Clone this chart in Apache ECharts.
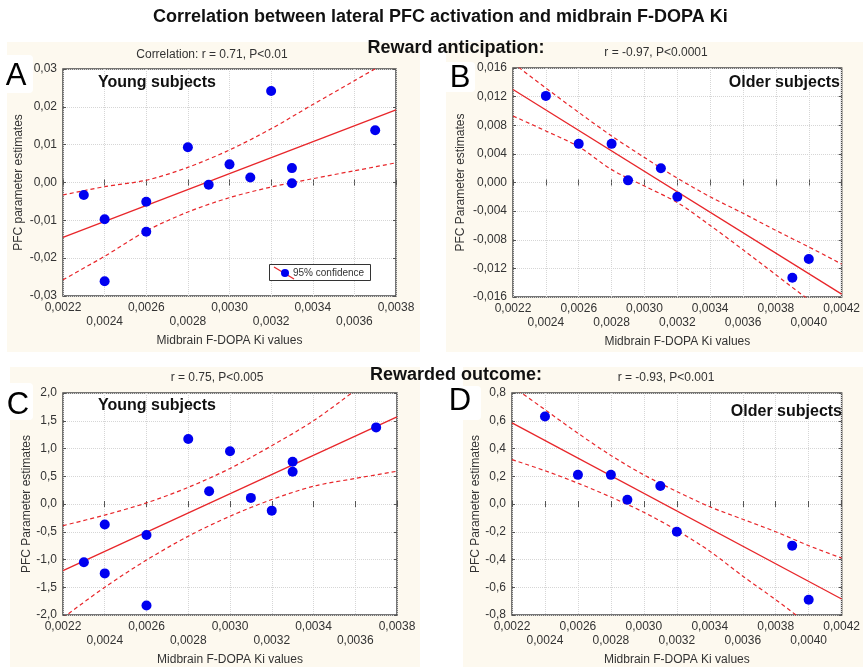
<!DOCTYPE html>
<html>
<head>
<meta charset="utf-8">
<script src="https://cdn.jsdelivr.net/npm/echarts@6/dist/echarts.min.js"></script>
<style>
  html, body { margin: 0; padding: 0; background: #fff; }
  #chart { width: 863px; height: 667px; }
</style>
</head>
<body>
<div id="chart"></div>
<script>
// values
const xTicksYoung = [0.0022, 0.0024, 0.0026, 0.0028, 0.0030, 0.0032, 0.0034, 0.0036, 0.0038];
const xTicksOlder = [0.0022, 0.0024, 0.0026, 0.0028, 0.0030, 0.0032, 0.0034, 0.0036, 0.0038, 0.0040, 0.0042];

// A: reward anticipation, young
const kiA = [0.0023, 0.0024, 0.0024, 0.0026, 0.0026, 0.0028, 0.0029, 0.0030, 0.0031, 0.0032, 0.0033, 0.0033, 0.0037];
const pfcA = [-0.0033, -0.0097, -0.0261, -0.0051, -0.0130, 0.0093, -0.0006, 0.0048, 0.0013, 0.0242, 0.0038, -0.0002, 0.0138];
const fitA = [-0.0145, 0.0192];
const upperA = [-0.0033, -0.0011, 0.0006, 0.0040, 0.0086, 0.0142, 0.0206, 0.0269, 0.0332];
const lowerA = [-0.0257, -0.0195, -0.0128, -0.0078, -0.0040, -0.0012, 0.0010, 0.0031, 0.0052];

// B: reward anticipation, older
const kiB = [0.0024, 0.0026, 0.0028, 0.0029, 0.0031, 0.0032, 0.0039, 0.0040];
const pfcB = [0.0121, 0.0054, 0.0054, 0.0003, 0.0020, -0.0020, -0.0133, -0.0107];
const fitB = [0.0130, -0.0156];
const upperB = [0.0167, 0.0132, 0.0098, 0.0065, 0.0035, 0.0006, -0.0020, -0.0043, -0.0067, -0.0090, -0.0114];
const lowerB = [0.0093, 0.0072, 0.0050, 0.0018, -0.0005, -0.0028, -0.0060, -0.0094, -0.0129, -0.0164, -0.0198];

// C: rewarded outcome, young
const kiC = [0.0023, 0.0024, 0.0024, 0.0026, 0.0026, 0.0028, 0.0029, 0.0030, 0.0031, 0.0032, 0.0033, 0.0033, 0.0037];
const pfcC = [-1.05, -0.37, -1.25, -0.56, -1.83, 1.17, 0.23, 0.95, 0.11, -0.12, 0.76, 0.58, 1.38];
const fitC = [-1.20, 1.57];
const upperC = [-0.39, -0.20, 0.02, 0.30, 0.64, 1.05, 1.50, 2.05, 2.65];
const lowerC = [-2.05, -1.50, -1.01, -0.58, -0.22, 0.08, 0.32, 0.46, 0.59];

// D: rewarded outcome, older
const kiD = [0.0024, 0.0026, 0.0028, 0.0029, 0.0031, 0.0032, 0.0039, 0.0040];
const pfcD = [0.63, 0.21, 0.21, 0.03, 0.13, -0.20, -0.30, -0.69];
const fitD = [0.585, -0.685];
const upperD = [0.85, 0.68, 0.51, 0.35, 0.21, 0.09, -0.02, -0.11, -0.20, -0.30, -0.39];
const lowerD = [0.32, 0.24, 0.15, 0.05, -0.06, -0.19, -0.34, -0.52, -0.69, -0.87, -1.05];

const FONT = '"Liberation Sans", Arial, sans-serif';
const RED = '#e8262a';
const BLUE = '#0000f0';
const BEIGE = '#fdf9ef';
const GRIDLINE = '#d6d6d6';

const panels = [
  { grid: { left: 63, top: 69, width: 333, height: 227 }, xt: xTicksYoung,
    ymin: -0.03, ymax: 0.03, yint: 0.01, yd: 2, yName: 'PFC parameter estimates', yGap: 38,
    ki: kiA, pfc: pfcA, fit: fitA, up: upperA, lo: lowerA },
  { grid: { left: 513, top: 68, width: 331, height: 229 }, xt: xTicksOlder,
    ymin: -0.016, ymax: 0.016, yint: 0.004, yd: 3, yName: 'PFC Parameter estimates', yGap: 46,
    ki: kiB, pfc: pfcB, fit: fitB, up: upperB, lo: lowerB },
  { grid: { left: 63, top: 393, width: 334, height: 222 }, xt: xTicksYoung,
    ymin: -2, ymax: 2, yint: 0.5, yd: 1, yName: 'PFC Parameter estimates', yGap: 30,
    ki: kiC, pfc: pfcC, fit: fitC, up: upperC, lo: lowerC },
  { grid: { left: 512, top: 393, width: 333, height: 224 }, xt: xTicksOlder,
    ymin: -0.8, ymax: 0.8, yint: 0.2, yd: 1, yName: 'PFC Parameter estimates', yGap: 30,
    ki: kiD, pfc: pfcD, fit: fitD, up: upperD, lo: lowerD }
];

function fmt(v, d) {
  const val = Math.abs(v) < 1e-12 ? 0 : v;
  return val.toFixed(d).replace('.', ',');
}

const grids = [];
const xAxes = [];
const yAxes = [];
const series = [];

panels.forEach((p, i) => {
  const xmin = p.xt[0];
  const xmax = p.xt[p.xt.length - 1];
  grids.push(Object.assign({
    show: true, backgroundColor: '#fff', borderColor: '#4a4a4a', borderWidth: 1.5
  }, p.grid));
  const tick = { show: true, inside: true, length: 3, lineStyle: { color: '#555' } };
  const labelBase = {
    color: '#333', fontFamily: FONT, fontSize: 12,
    showMinLabel: true, showMaxLabel: true, hideOverlap: false
  };
  // the two rows of x labels: even ticks on the first, odd ticks on the second
  const rowLabel = (v, odd) => {
    const idx = Math.round((v - xmin) / 0.0002);
    return (idx % 2 === 1) === odd ? fmt(v, 4) : '';
  };
  xAxes.push({
    type: 'value', gridIndex: i, position: 'bottom', min: xmin, max: xmax, interval: 0.0002,
    axisLine: { show: false },
    axisTick: tick,
    splitLine: { show: true, lineStyle: { color: GRIDLINE, type: 'dotted' } },
    axisLabel: Object.assign({ margin: 6, formatter: (v) => rowLabel(v, false) }, labelBase),
    name: 'Midbrain F-DOPA Ki values', nameLocation: 'middle', nameGap: 39,
    nameTextStyle: { color: '#333', fontFamily: FONT, fontSize: 12 }
  });
  xAxes.push({
    type: 'value', gridIndex: i, position: 'top', min: xmin, max: xmax, interval: 0.0002,
    axisLine: { show: false }, axisTick: tick, axisLabel: { show: false }, splitLine: { show: false }
  });
  xAxes.push({
    type: 'value', gridIndex: i, position: 'bottom', min: xmin, max: xmax, interval: 0.0002,
    axisLine: { show: false }, axisTick: { show: false }, splitLine: { show: false },
    axisLabel: Object.assign({ margin: 20, formatter: (v) => rowLabel(v, true) }, labelBase)
  });
  yAxes.push({
    type: 'value', gridIndex: i, position: 'left', min: p.ymin, max: p.ymax, interval: p.yint,
    axisLine: { show: false },
    axisTick: tick,
    splitLine: { show: true, lineStyle: { color: GRIDLINE, type: 'dotted' } },
    axisLabel: Object.assign({ margin: 6, formatter: (v) => fmt(v, p.yd) }, labelBase),
    name: p.yName, nameLocation: 'middle', nameGap: p.yGap,
    nameTextStyle: { color: '#333', fontFamily: FONT, fontSize: 12 }
  });
  yAxes.push({
    type: 'value', gridIndex: i, position: 'right', min: p.ymin, max: p.ymax, interval: p.yint,
    axisLine: { show: false }, axisTick: tick, axisLabel: { show: false }, splitLine: { show: false }
  });
  const xi = i * 3;
  const yi = i * 2;
  const bandStyle = { color: RED, width: 1.2, type: [4, 3] };
  series.push({
    type: 'line', xAxisIndex: xi, yAxisIndex: yi, silent: true, symbol: 'none', smooth: 0.3,
    lineStyle: bandStyle, data: p.xt.map((x, k) => [x, p.up[k]]), z: 3
  });
  series.push({
    type: 'line', xAxisIndex: xi, yAxisIndex: yi, silent: true, symbol: 'none', smooth: 0.3,
    lineStyle: bandStyle, data: p.xt.map((x, k) => [x, p.lo[k]]), z: 3
  });
  series.push({
    type: 'line', xAxisIndex: xi, yAxisIndex: yi, silent: true, symbol: 'none',
    lineStyle: { color: RED, width: 1.3 }, data: [[xmin, p.fit[0]], [xmax, p.fit[1]]], z: 3
  });
  series.push({
    type: 'scatter', xAxisIndex: xi, yAxisIndex: yi, symbolSize: 10,
    itemStyle: { color: BLUE, opacity: 1 }, data: p.ki.map((x, k) => [x, p.pfc[k]]), z: 5
  });
});

function txt(x, y, text, size, weight, align, color) {
  return {
    type: 'text', x, y, z: 20,
    style: {
      text, fontSize: size, fontWeight: weight, fontFamily: FONT,
      fill: color || '#111', align, verticalAlign: 'middle'
    }
  };
}

const graphic = [
  { type: 'rect', z: -10, shape: { x: 7, y: 42, width: 413, height: 310 }, style: { fill: BEIGE } },
  { type: 'rect', z: -10, shape: { x: 446, y: 42, width: 417, height: 310 }, style: { fill: BEIGE } },
  { type: 'rect', z: -10, shape: { x: 10, y: 367, width: 410, height: 300 }, style: { fill: BEIGE } },
  { type: 'rect', z: -10, shape: { x: 463, y: 367, width: 400, height: 300 }, style: { fill: BEIGE } },
  { type: 'rect', z: -5, shape: { x: 0, y: 55, width: 33, height: 38, r: 4 }, style: { fill: '#fff' } },
  { type: 'rect', z: -5, shape: { x: 443, y: 62, width: 32, height: 30, r: 4 }, style: { fill: '#fff' } },
  { type: 'rect', z: -5, shape: { x: 0, y: 383, width: 33, height: 37, r: 4 }, style: { fill: '#fff' } },
  { type: 'rect', z: -5, shape: { x: 443, y: 386, width: 38, height: 34, r: 4 }, style: { fill: '#fff' } },
  txt(153, 17, 'Correlation between lateral PFC activation and midbrain F-DOPA Ki', 18, 'bold', 'left'),
  txt(456, 48, 'Reward anticipation:', 18, 'bold', 'center'),
  txt(456, 375, 'Rewarded outcome:', 18, 'bold', 'center'),
  txt(212, 55, 'Correlation: r = 0.71, P<0.01', 12, 'normal', 'center', '#333'),
  txt(656, 53, 'r = -0.97, P<0.0001', 12, 'normal', 'center', '#333'),
  txt(217, 378, 'r = 0.75, P<0.005', 12, 'normal', 'center', '#333'),
  txt(666, 378, 'r = -0.93, P<0.001', 12, 'normal', 'center', '#333'),
  txt(16, 76, 'A', 31, 'normal', 'center', '#000'),
  txt(460, 78, 'B', 31, 'normal', 'center', '#000'),
  txt(18, 405, 'C', 31, 'normal', 'center', '#000'),
  txt(460, 401, 'D', 31, 'normal', 'center', '#000'),
  txt(98, 83, 'Young subjects', 16, 'bold', 'left'),
  txt(840, 83, 'Older subjects', 16, 'bold', 'right'),
  txt(98, 406, 'Young subjects', 16, 'bold', 'left'),
  txt(842, 412, 'Older subjects', 16, 'bold', 'right'),
  // legend of panel A
  { type: 'rect', z: 20, shape: { x: 269.5, y: 264.5, width: 101, height: 16 },
    style: { fill: '#fff', stroke: '#333', lineWidth: 1 } },
  { type: 'line', z: 21, shape: { x1: 274, y1: 267, x2: 294, y2: 279 },
    style: { stroke: RED, lineWidth: 1.2 } },
  { type: 'circle', z: 22, shape: { cx: 285, cy: 273, r: 4 }, style: { fill: BLUE } },
  txt(293, 273, '95% confidence', 10, 'normal', 'left', '#333')
];

const chart = echarts.init(document.getElementById('chart'));
chart.setOption({
  backgroundColor: '#fff',
  animation: false,
  grid: grids,
  xAxis: xAxes,
  yAxis: yAxes,
  series,
  graphic
});
</script>
</body>
</html>
